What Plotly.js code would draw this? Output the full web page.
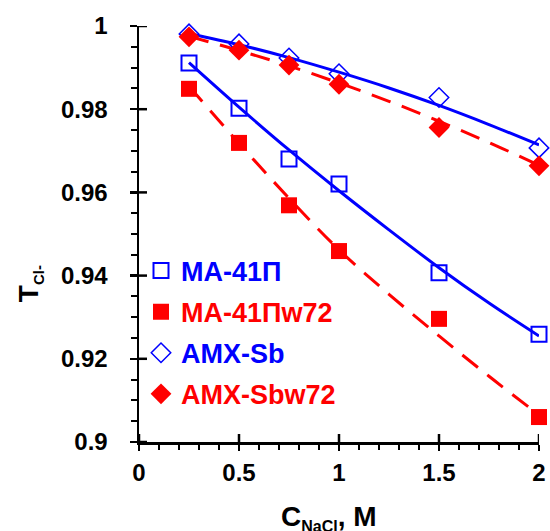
<!DOCTYPE html>
<html><head><meta charset="utf-8">
<script src="https://cdn.plot.ly/plotly-3.0.1.min.js"></script>
<style>html,body{margin:0;padding:0;background:#fff}#chart{width:550px;height:531px}</style>
</head><body><div id="chart"></div>
<script>
// Measured data
const cNaCl = [0.25, 0.5, 0.75, 1.0, 1.5, 2.0];
const ma41P = [0.9911, 0.9802, 0.9680, 0.9620, 0.9407, 0.9259];
const ma41Pw72 = [0.9849, 0.9719, 0.9569, 0.9459, 0.9296, 0.9060];
const amxSb = [0.9981, 0.9957, 0.9923, 0.9885, 0.9828, 0.9707];
const amxSbw72 = [0.9974, 0.9942, 0.9906, 0.9860, 0.9756, 0.9664];
// Trend curves
const fitX = [0.25, 0.5, 0.75, 1.0, 1.25, 1.5, 1.75, 2.0];
const fitMa41P = [0.9912, 0.9805, 0.9702, 0.9604, 0.9510, 0.9419, 0.9334, 0.9255];
const fitMa41Pw72 = [0.9855, 0.9718, 0.9586, 0.9462, 0.9355, 0.9255, 0.9158, 0.9065];
const fitAmxSb = [0.9982, 0.9955, 0.9924, 0.9889, 0.9851, 0.9809, 0.9763, 0.9714];
const fitAmxSbw72 = [0.9975, 0.9941, 0.9904, 0.9863, 0.9819, 0.9771, 0.9720, 0.9665];
const xTicks = [0, 0.5, 1, 1.5, 2];
const xTickText = ['0', '0.5', '1', '1.5', '2'];
const yTicks = [0.9, 0.92, 0.94, 0.96, 0.98, 1];
const yTickText = ['0.9', '0.92', '0.94', '0.96', '0.98', '1'];
const seriesNames = ['MA-41П', 'MA-41Пw72', 'AMX-Sb', 'AMX-Sbw72'];

const BLUE = '#0000FF', RED = '#FF0000';
const FONT = 'Arial, "Liberation Sans", sans-serif';
const lbl = (t, c) => '<b><span style="color:' + c + '">' + t + '</span></b>';

const traces = [
  {x: fitX, y: fitMa41P, mode: 'lines', line: {color: BLUE, width: 3, shape: 'spline'}, showlegend: false, hoverinfo: 'skip'},
  {x: fitX, y: fitMa41Pw72, mode: 'lines', line: {color: RED, width: 3, shape: 'spline', dash: '20px,12px'}, showlegend: false, hoverinfo: 'skip'},
  {x: fitX, y: fitAmxSb, mode: 'lines', line: {color: BLUE, width: 3, shape: 'spline'}, showlegend: false, hoverinfo: 'skip'},
  {x: fitX, y: fitAmxSbw72, mode: 'lines', line: {color: RED, width: 3, shape: 'spline', dash: '20px,12px'}, showlegend: false, hoverinfo: 'skip'},
  {x: cNaCl, y: ma41P, mode: 'markers', name: lbl(seriesNames[0], BLUE), legendgroup: 'a',
   marker: {symbol: 'square-open', size: 15, color: BLUE, line: {width: 2, color: BLUE}}, cliponaxis: false},
  {x: cNaCl, y: ma41Pw72, mode: 'markers', name: lbl(seriesNames[1], RED), legendgroup: 'b',
   marker: {symbol: 'square', size: 16, color: RED}, cliponaxis: false},
  {x: cNaCl, y: amxSb, mode: 'markers', name: lbl(seriesNames[2], BLUE), legendgroup: 'c',
   marker: {symbol: 'diamond-open', size: 15, color: BLUE, line: {width: 1.5, color: BLUE}}, cliponaxis: false},
  {x: cNaCl, y: amxSbw72, mode: 'markers', name: lbl(seriesNames[3], RED), legendgroup: 'd',
   marker: {symbol: 'diamond', size: 16, color: RED}, cliponaxis: false}
];

const shapes = [];
xTicks.forEach(v => shapes.push({type: 'line', xref: 'x', yref: 'paper', x0: v, x1: v, y0: 0, y1: 8/416, line: {color: '#000', width: 2.5}}));
yTicks.forEach(v => shapes.push({type: 'line', xref: 'paper', yref: 'y', x0: 0, x1: 8/400, y0: v, y1: v, line: {color: '#000', width: 2.5}}));

const layout = {
  width: 550, height: 531,
  margin: {l: 139, r: 11, t: 26, b: 89},
  paper_bgcolor: '#fff', plot_bgcolor: '#fff',
  font: {family: FONT, color: '#000'},
  showlegend: true,
  legend: {x: 0.005, y: 0.47, xanchor: 'left', yanchor: 'top', bgcolor: 'rgba(0,0,0,0)',
    font: {family: FONT, size: 27}, traceorder: 'grouped', tracegroupgap: 3},
  xaxis: {range: [0, 2], showline: true, linecolor: '#000', linewidth: 2.5, zeroline: false, showgrid: false,
    ticks: 'outside', ticklen: 6, tickwidth: 2.5, tickcolor: '#000', tickvals: xTicks, ticktext: xTickText.map(t => '<b>' + t + '</b>'),
    tickfont: {family: FONT, size: 24}, ticklabelstandoff: 2,
    minor: {dtick: 0.1, ticks: 'outside', ticklen: 5, tickwidth: 2, tickcolor: '#000', showgrid: false}},
  yaxis: {range: [0.9, 1], showline: true, linecolor: '#000', linewidth: 2.5, zeroline: false, showgrid: false,
    ticks: 'outside', ticklen: 7, tickwidth: 2.5, tickcolor: '#000', tickvals: yTicks, ticktext: yTickText.map(t => '<b>' + t + '</b>'),
    tickfont: {family: FONT, size: 24}, ticklabelstandoff: 17,
    minor: {dtick: 0.005, ticks: 'outside', ticklen: 6, tickwidth: 2, tickcolor: '#000', showgrid: false}},
  shapes: shapes,
  annotations: [
    {text: '<b>T<sub><span style="font-size:15px">Cl-</span></sub></b>', xref: 'paper', yref: 'paper', x: 0, y: 0.33, xshift: -128, textangle: -90,
     showarrow: false, font: {family: FONT, size: 28, color: '#000'}},
    {text: '<b>C<sub><span style="font-size:16px">NaCl</span></sub>, M</b>', xref: 'paper', yref: 'paper', x: 0.475, y: 0, yanchor: 'top', yshift: -57,
     showarrow: false, font: {family: FONT, size: 28, color: '#000'}}
  ]
};

Plotly.newPlot('chart', traces, layout, {displayModeBar: false, staticPlot: true});
</script></body></html>
